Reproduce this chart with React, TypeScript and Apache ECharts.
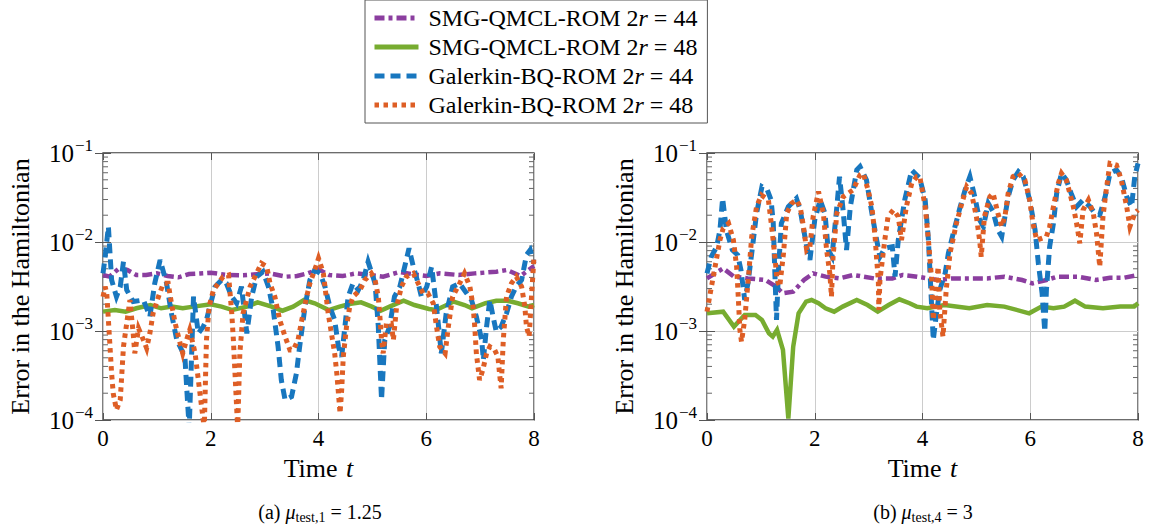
import React, { useEffect, useRef } from "react";
import * as echarts from "echarts";

const FONT = '"Liberation Serif", "Times New Roman", serif';

const SERIES_NAMES = [
  "SMG-QMCL-ROM 2r = 44",
  "SMG-QMCL-ROM 2r = 48",
  "Galerkin-BQ-ROM 2r = 44",
  "Galerkin-BQ-ROM 2r = 48",
];

const X_MIN = 0;
const X_MAX = 8;
const X_INTERVAL = 2;
const Y_MIN = 1e-4;
const Y_MAX = 1e-1;
const MINOR_TICKS = [
  2e-4, 3e-4, 4e-4, 5e-4, 6e-4, 7e-4, 8e-4, 9e-4,
  2e-3, 3e-3, 4e-3, 5e-3, 6e-3, 7e-3, 8e-3, 9e-3,
  2e-2, 3e-2, 4e-2, 5e-2, 6e-2, 7e-2, 8e-2, 9e-2,
];

// ---------- (a) mu_test,1 = 1.25 ----------
const T_A_SMG44 = [0, 0.12, 0.3, 0.45, 0.62, 0.8, 1.0, 1.2, 1.4, 1.6, 1.8, 2.0, 2.3, 2.6, 2.9, 3.1, 3.4, 3.6, 3.8, 4.0, 4.2, 4.45, 4.7, 4.9, 5.2, 5.5, 5.8, 6.0, 6.25, 6.6, 6.9, 7.3, 7.5, 7.75, 8.0];
const V_A_SMG44 = [0.00426, 0.00408, 0.00506, 0.00485, 0.00426, 0.00426, 0.00444, 0.00415, 0.00401, 0.00437, 0.00444, 0.00452, 0.00426, 0.00422, 0.00437, 0.00444, 0.00408, 0.00415, 0.00444, 0.00493, 0.00426, 0.00415, 0.00444, 0.0043, 0.00408, 0.0046, 0.0043, 0.00415, 0.00444, 0.00426, 0.00444, 0.00464, 0.00485, 0.00415, 0.00537];

const T_A_SMG48 = [0, 0.22, 0.42, 0.62, 0.88, 1.08, 1.28, 1.48, 1.68, 2.0, 2.2, 2.4, 2.67, 2.87, 3.13, 3.33, 3.53, 3.73, 3.93, 4.19, 4.39, 4.6, 4.79, 4.99, 5.15, 5.32, 5.58, 5.78, 6.05, 6.18, 6.38, 6.51, 6.71, 6.85, 7.1, 7.3, 7.5, 7.7, 7.9, 8.0];
const V_A_SMG48 = [0.00165, 0.00172, 0.00165, 0.0018, 0.00196, 0.0018, 0.00188, 0.0018, 0.00188, 0.002, 0.00188, 0.00172, 0.00188, 0.0021, 0.00188, 0.00169, 0.00188, 0.00223, 0.00205, 0.00172, 0.00188, 0.00202, 0.0021, 0.00188, 0.00169, 0.00188, 0.00219, 0.00196, 0.00177, 0.00172, 0.00196, 0.00214, 0.00196, 0.0018, 0.00205, 0.00219, 0.00219, 0.00205, 0.00188, 0.00196];

const T_A_GAL44 = [0, 0.04, 0.1, 0.16, 0.25, 0.32, 0.38, 0.44, 0.56, 0.75, 0.87, 0.96, 1.06, 1.18, 1.27, 1.37, 1.46, 1.52, 1.56, 1.6, 1.68, 1.77, 1.86, 1.92, 2.08, 2.2, 2.29, 2.39, 2.48, 2.57, 2.67, 2.76, 2.85, 2.97, 3.07, 3.16, 3.25, 3.31, 3.38, 3.5, 3.59, 3.65, 3.75, 3.84, 3.93, 4.03, 4.12, 4.21, 4.3, 4.37, 4.43, 4.49, 4.55, 4.64, 4.74, 4.83, 4.92, 5.05, 5.11, 5.17, 5.23, 5.32, 5.41, 5.51, 5.6, 5.68, 5.76, 5.85, 5.91, 6.01, 6.1, 6.19, 6.28, 6.37, 6.49, 6.62, 6.75, 6.84, 6.93, 7.03, 7.06, 7.12, 7.18, 7.24, 7.3, 7.39, 7.49, 7.58, 7.67, 7.77, 7.86, 7.93, 8.0];
const V_A_GAL44 = [0.00444, 0.00684, 0.0149, 0.00374, 0.00243, 0.00315, 0.00601, 0.00289, 0.00214, 0.00223, 0.00145, 0.00343, 0.00628, 0.00343, 0.00158, 0.000792, 0.000612, 0.000515, 0.000199, 0.00008, 0.00243, 0.000941, 0.00112, 0.00133, 0.00315, 0.00374, 0.00343, 0.00243, 0.00205, 0.00315, 0.000941, 0.00243, 0.00408, 0.00464, 0.00315, 0.00172, 0.000667, 0.000281, 0.000168, 0.000183, 0.000334, 0.000667, 0.00188, 0.00374, 0.00485, 0.00444, 0.00315, 0.00188, 0.00133, 0.000667, 0.000515, 0.00112, 0.00243, 0.00343, 0.00289, 0.00374, 0.00601, 0.00343, 0.00112, 0.000168, 0.000792, 0.00112, 0.00243, 0.00315, 0.00528, 0.00849, 0.00528, 0.00343, 0.00243, 0.00315, 0.00528, 0.00188, 0.000561, 0.00158, 0.00315, 0.00343, 0.00265, 0.00223, 0.00145, 0.000792, 0.000472, 0.00112, 0.00223, 0.00145, 0.000983, 0.00112, 0.00158, 0.00243, 0.00315, 0.00374, 0.00714, 0.00813, 0.00576];

const T_A_GAL48 = [0, 0.04, 0.07, 0.1, 0.13, 0.16, 0.19, 0.25, 0.32, 0.35, 0.38, 0.44, 0.5, 0.56, 0.59, 0.66, 0.75, 0.81, 0.87, 0.93, 1.03, 1.12, 1.21, 1.27, 1.34, 1.4, 1.48, 1.55, 1.61, 1.71, 1.77, 1.83, 1.88, 1.92, 1.97, 2.05, 2.14, 2.23, 2.33, 2.39, 2.42, 2.45, 2.48, 2.5, 2.54, 2.6, 2.73, 2.85, 2.94, 3.04, 3.1, 3.19, 3.28, 3.38, 3.47, 3.53, 3.62, 3.69, 3.78, 3.84, 3.93, 4.0, 4.09, 4.12, 4.18, 4.24, 4.3, 4.34, 4.37, 4.4, 4.43, 4.46, 4.52, 4.58, 4.64, 4.77, 4.86, 4.98, 5.05, 5.11, 5.14, 5.17, 5.2, 5.26, 5.35, 5.39, 5.45, 5.54, 5.63, 5.76, 5.85, 5.94, 6.03, 6.13, 6.19, 6.25, 6.35, 6.41, 6.49, 6.62, 6.71, 6.81, 6.87, 6.9, 6.93, 6.99, 7.05, 7.12, 7.18, 7.27, 7.33, 7.36, 7.39, 7.43, 7.49, 7.58, 7.67, 7.77, 7.83, 7.86, 7.91, 7.95, 8.0];
const V_A_GAL48 = [0.00243, 0.00315, 0.00265, 0.00133, 0.000667, 0.000334, 0.000199, 0.00013, 0.000168, 0.000334, 0.000667, 0.00122, 0.00223, 0.000941, 0.000561, 0.00107, 0.000792, 0.000639, 0.000941, 0.00158, 0.00243, 0.00343, 0.00343, 0.00205, 0.00122, 0.000864, 0.000561, 0.000792, 0.00103, 0.000561, 0.000281, 0.000141, 0.00008, 0.000792, 0.00188, 0.00289, 0.00343, 0.00408, 0.00426, 0.00158, 0.000792, 0.000334, 0.000141, 0.00008, 0.000561, 0.00158, 0.00315, 0.00444, 0.00576, 0.00528, 0.00343, 0.00243, 0.00133, 0.000864, 0.000612, 0.000612, 0.000792, 0.00133, 0.00243, 0.00343, 0.00485, 0.00655, 0.00444, 0.00315, 0.00158, 0.000941, 0.000561, 0.000334, 0.000199, 0.000119, 0.000217, 0.000515, 0.00112, 0.00188, 0.00243, 0.00289, 0.00374, 0.00444, 0.00374, 0.00243, 0.00145, 0.000792, 0.000561, 0.00122, 0.00122, 0.000792, 0.00188, 0.00315, 0.00408, 0.00444, 0.00343, 0.00265, 0.00265, 0.00205, 0.00112, 0.000667, 0.000561, 0.00112, 0.00243, 0.00343, 0.00444, 0.00315, 0.00188, 0.00112, 0.000561, 0.000281, 0.000365, 0.000561, 0.000667, 0.000612, 0.000515, 0.000334, 0.000227, 0.000792, 0.00243, 0.00343, 0.00408, 0.00315, 0.00188, 0.00112, 0.000864, 0.00223, 0.00684];

// ---------- (b) mu_test,4 = 3 ----------
const T_B_SMG44 = [0, 0.3, 0.5, 0.76, 1.09, 1.28, 1.41, 1.6, 1.8, 1.97, 2.2, 2.46, 2.72, 3.1, 3.44, 3.63, 3.9, 4.28, 4.54, 4.87, 5.2, 5.52, 5.85, 6.04, 6.3, 6.5, 6.89, 7.22, 7.48, 7.74, 8.0];
const V_B_SMG44 = [0.0039, 0.00506, 0.00408, 0.0039, 0.00374, 0.00315, 0.00265, 0.00277, 0.00374, 0.00444, 0.00408, 0.0039, 0.00426, 0.0039, 0.0039, 0.00426, 0.00408, 0.00374, 0.0039, 0.0039, 0.0039, 0.00408, 0.00374, 0.00343, 0.00374, 0.00408, 0.00408, 0.00374, 0.00397, 0.00397, 0.00426];

const T_B_SMG48 = [0, 0.3, 0.5, 0.7, 0.9, 1.02, 1.15, 1.22, 1.3, 1.41, 1.51, 1.6, 1.7, 1.84, 1.94, 2.07, 2.2, 2.36, 2.52, 2.78, 2.98, 3.17, 3.37, 3.57, 3.76, 3.89, 4.09, 4.41, 4.87, 5.2, 5.52, 5.98, 6.21, 6.43, 6.63, 6.83, 7.02, 7.35, 7.67, 7.93, 8.0];
const V_B_SMG48 = [0.00158, 0.00165, 0.00112, 0.00151, 0.00151, 0.00133, 0.000941, 0.000864, 0.00103, 0.000612, 0.000104, 0.000667, 0.00158, 0.00214, 0.00223, 0.00205, 0.0018, 0.00165, 0.00188, 0.00223, 0.00196, 0.00165, 0.00196, 0.00227, 0.00205, 0.00188, 0.0018, 0.00196, 0.0018, 0.00196, 0.00188, 0.00158, 0.00188, 0.0018, 0.00188, 0.00219, 0.00188, 0.0018, 0.00188, 0.00188, 0.00205];

const T_B_GAL44 = [0, 0.08, 0.18, 0.24, 0.29, 0.36, 0.47, 0.57, 0.63, 0.7, 0.76, 0.83, 0.92, 1.02, 1.12, 1.19, 1.23, 1.26, 1.29, 1.33, 1.38, 1.51, 1.66, 1.73, 1.85, 1.91, 2.0, 2.1, 2.19, 2.25, 2.32, 2.41, 2.46, 2.52, 2.59, 2.66, 2.78, 2.84, 2.96, 3.05, 3.15, 3.21, 3.3, 3.44, 3.49, 3.55, 3.67, 3.8, 3.95, 4.05, 4.11, 4.17, 4.2, 4.26, 4.32, 4.42, 4.48, 4.57, 4.7, 4.79, 4.88, 4.97, 5.06, 5.13, 5.22, 5.31, 5.4, 5.47, 5.53, 5.59, 5.68, 5.78, 5.87, 5.99, 6.09, 6.15, 6.22, 6.27, 6.3, 6.36, 6.43, 6.49, 6.58, 6.67, 6.76, 6.86, 6.98, 7.11, 7.2, 7.29, 7.39, 7.48, 7.6, 7.69, 7.79, 7.88, 7.94, 8.0];
const V_B_GAL44 = [0.00444, 0.00684, 0.00886, 0.0136, 0.0309, 0.0136, 0.00813, 0.00714, 0.00485, 0.00223, 0.00343, 0.00746, 0.021, 0.0418, 0.0384, 0.0296, 0.0162, 0.00444, 0.00133, 0.00528, 0.0162, 0.0249, 0.0309, 0.0229, 0.00886, 0.00628, 0.0177, 0.0296, 0.021, 0.00813, 0.00684, 0.0249, 0.0542, 0.0249, 0.00813, 0.0249, 0.0644, 0.0702, 0.0497, 0.0229, 0.0105, 0.00684, 0.00849, 0.00886, 0.00408, 0.0105, 0.0296, 0.0644, 0.0519, 0.0296, 0.0105, 0.00188, 0.000792, 0.00158, 0.00289, 0.00444, 0.00746, 0.0125, 0.0249, 0.0384, 0.0542, 0.0323, 0.0177, 0.0149, 0.0272, 0.0219, 0.0136, 0.0115, 0.0193, 0.0323, 0.0497, 0.0617, 0.0542, 0.0296, 0.0136, 0.00576, 0.00265, 0.000983, 0.00289, 0.00886, 0.0162, 0.0352, 0.0591, 0.0497, 0.0352, 0.0249, 0.0296, 0.0249, 0.021, 0.0201, 0.0323, 0.0591, 0.0644, 0.0542, 0.0323, 0.0249, 0.0542, 0.0765];

const T_B_GAL48 = [0, 0.06, 0.15, 0.24, 0.3, 0.4, 0.49, 0.55, 0.58, 0.61, 0.64, 0.7, 0.77, 0.83, 0.92, 1.01, 1.14, 1.2, 1.26, 1.3, 1.35, 1.42, 1.48, 1.57, 1.66, 1.73, 1.79, 1.85, 1.91, 1.97, 2.07, 2.16, 2.22, 2.28, 2.31, 2.34, 2.41, 2.53, 2.71, 2.84, 2.9, 2.99, 3.06, 3.12, 3.15, 3.18, 3.19, 3.21, 3.3, 3.36, 3.46, 3.55, 3.61, 3.7, 3.8, 3.89, 3.95, 4.05, 4.11, 4.17, 4.2, 4.24, 4.29, 4.32, 4.38, 4.44, 4.51, 4.63, 4.73, 4.82, 4.91, 5.0, 5.06, 5.09, 5.15, 5.25, 5.31, 5.4, 5.47, 5.53, 5.59, 5.68, 5.78, 5.9, 5.99, 6.05, 6.12, 6.21, 6.3, 6.36, 6.43, 6.52, 6.58, 6.67, 6.8, 6.86, 6.92, 6.98, 7.08, 7.17, 7.23, 7.29, 7.35, 7.41, 7.48, 7.6, 7.69, 7.79, 7.85, 7.94, 8.0];
const V_B_GAL48 = [0.00165, 0.00265, 0.00528, 0.0105, 0.0142, 0.0162, 0.0105, 0.00528, 0.00243, 0.00103, 0.000759, 0.00133, 0.00408, 0.0115, 0.0249, 0.0337, 0.0296, 0.0149, 0.00684, 0.00374, 0.00315, 0.00746, 0.021, 0.0272, 0.0296, 0.0249, 0.0149, 0.00813, 0.00886, 0.0193, 0.0368, 0.021, 0.00813, 0.00444, 0.00243, 0.00684, 0.021, 0.0323, 0.0384, 0.0566, 0.0591, 0.0384, 0.0249, 0.0115, 0.00628, 0.00374, 0.00172, 0.00374, 0.0105, 0.0193, 0.0229, 0.0193, 0.0105, 0.0249, 0.0456, 0.0542, 0.0542, 0.0249, 0.0105, 0.00374, 0.00133, 0.00243, 0.00528, 0.00172, 0.000864, 0.00289, 0.00746, 0.0162, 0.0272, 0.0418, 0.0352, 0.0193, 0.0105, 0.00684, 0.0193, 0.0323, 0.0352, 0.021, 0.0149, 0.0193, 0.0352, 0.0542, 0.0591, 0.0497, 0.0296, 0.0162, 0.0105, 0.011, 0.0115, 0.0149, 0.0249, 0.0456, 0.0591, 0.0497, 0.0249, 0.0162, 0.00966, 0.0229, 0.0296, 0.021, 0.0125, 0.00528, 0.0193, 0.0384, 0.0765, 0.0733, 0.0497, 0.0249, 0.0149, 0.021, 0.0229];

const PANEL_A = [
  [T_A_SMG44, V_A_SMG44],
  [T_A_SMG48, V_A_SMG48],
  [T_A_GAL44, V_A_GAL44],
  [T_A_GAL48, V_A_GAL48],
];
const PANEL_B = [
  [T_B_SMG44, V_B_SMG44],
  [T_B_SMG48, V_B_SMG48],
  [T_B_GAL44, V_B_GAL44],
  [T_B_GAL48, V_B_GAL48],
];

const LINE_STYLES = [
  { color: "#8B3E9F", width: 4.5, type: [10, 4, 4, 4] },
  { color: "#77AC30", width: 4.5, type: "solid" },
  { color: "#1877BF", width: 5, type: [10, 6] },
  { color: "#DE5E25", width: 5, type: [4.5, 4.5] },
];

function zip(t: number[], v: number[]) {
  const n = Math.min(t.length, v.length);
  const out: number[][] = [];
  for (let i = 0; i < n; i++) out.push([t[i], v[i]]);
  return out;
}

const GRIDS = [
  { left: 103, top: 153, width: 431, height: 267 },
  { left: 707, top: 153, width: 431, height: 267 },
];

function buildOption() {
  const xAxis: any[] = [];
  const yAxis: any[] = [];
  const series: any[] = [];
  const grid: any[] = [];

  GRIDS.forEach((g, gi) => {
    grid.push({
      ...g,
      show: true,
      borderColor: "#3c3c3c",
      borderWidth: 1.3,
      backgroundColor: "transparent",
    });
    xAxis.push({
      gridIndex: gi,
      type: "value",
      min: X_MIN,
      max: X_MAX,
      interval: X_INTERVAL,
      axisLine: { show: false },
      axisTick: { show: true, inside: true, length: 7, lineStyle: { color: "#555", width: 1 } },
      axisLabel: { fontFamily: FONT, fontSize: 23, color: "#000", margin: 7 },
      splitLine: { show: true, lineStyle: { color: "#cccccc", width: 1 } },
      name: "{n|Time }{i|t}",
      nameLocation: "middle",
      nameGap: 35,
      nameTextStyle: {
        rich: {
          n: { fontFamily: FONT, fontSize: 26, color: "#000" },
          i: { fontFamily: FONT, fontSize: 26, fontStyle: "italic", color: "#000", padding: [0, 0, 0, 2] },
        },
      },
    });
    xAxis.push({
      gridIndex: gi,
      type: "value",
      position: "top",
      min: X_MIN,
      max: X_MAX,
      interval: X_INTERVAL,
      axisLine: { show: false },
      axisTick: { show: true, inside: true, length: 7, lineStyle: { color: "#555", width: 1 } },
      axisLabel: { show: false },
      splitLine: { show: false },
    });
    yAxis.push({
      gridIndex: gi,
      type: "log",
      logBase: 10,
      min: Y_MIN,
      max: Y_MAX,
      axisLine: { show: false },
      axisTick: { show: true, inside: true, length: 8, lineStyle: { color: "#555", width: 1 } },
      splitLine: { show: true, lineStyle: { color: "#cccccc", width: 1 } },
      minorTick: { show: false },
      axisLabel: {
        margin: 10,
        formatter: (v: number) => {
          const e = Math.round(Math.log10(v));
          return "{b|10}{s|\u2212" + Math.abs(e) + "}";
        },
        rich: {
          b: { fontFamily: FONT, fontSize: 25, color: "#000" },
          s: { fontFamily: FONT, fontSize: 17, color: "#000", verticalAlign: "top", padding: [0, 0, 15, 1] },
        },
      },
      name: "Error in the Hamiltonian",
      nameLocation: "middle",
      nameGap: 70,
      nameTextStyle: { fontFamily: FONT, fontSize: 26, color: "#000" },
    });
    yAxis.push({
      gridIndex: gi,
      type: "log",
      logBase: 10,
      min: Y_MIN,
      max: Y_MAX,
      position: "right",
      axisLine: { show: false },
      axisTick: { show: true, inside: true, length: 8, lineStyle: { color: "#555", width: 1 } },
      axisLabel: { show: false },
      splitLine: { show: false },
    });

    const panel = gi === 0 ? PANEL_A : PANEL_B;
    series.push({
      type: "custom",
      xAxisIndex: gi * 2,
      yAxisIndex: gi * 2,
      silent: true,
      z: 1,
      data: MINOR_TICKS.map((v) => [X_MIN, v]),
      encode: { x: 0, y: 1 },
      renderItem: (_p: any, api: any) => {
        const v = api.value(1);
        const a = api.coord([X_MIN, v]);
        const b = api.coord([X_MAX, v]);
        const st = { stroke: "#666", lineWidth: 1 };
        return {
          type: "group",
          children: [
            { type: "line", shape: { x1: a[0], y1: a[1], x2: a[0] + 5, y2: a[1] }, style: st },
            { type: "line", shape: { x1: b[0] - 5, y1: b[1], x2: b[0], y2: b[1] }, style: st },
          ],
        };
      },
    });
    panel.forEach(([t, v], si) => {
      const ls = LINE_STYLES[si];
      series.push({
        name: SERIES_NAMES[si],
        type: "line",
        xAxisIndex: gi * 2,
        yAxisIndex: gi * 2,
        data: zip(t as number[], v as number[]),
        showSymbol: false,
        symbol: "none",
        clip: true,
        z: 2 + si,
        itemStyle: { color: ls.color },
        lineStyle: {
          color: ls.color,
          width: ls.width,
          type: ls.type,
          cap: "butt",
          join: "miter",
          miterLimit: 10,
        },
      });
    });
  });

  return {
    animation: false,
    backgroundColor: "#ffffff",
    grid,
    xAxis,
    yAxis,
    series,
    legend: {
      data: SERIES_NAMES.map((name, i) => ({
        name,
        itemStyle: { opacity: 0 },
        lineStyle: {
          color: LINE_STYLES[i].color,
          width: 5,
          type: LINE_STYLES[i].type,
          cap: "butt",
        },
      })),
      selectedMode: false,
      orient: "vertical",
      left: 365,
      top: 0,
      itemWidth: 44,
      itemHeight: 12,
      itemGap: 5,
      padding: [6, 10, 6, 7],
      borderColor: "#555",
      borderWidth: 1,
      backgroundColor: "#fff",
      formatter: (name: string) => {
        const m = name.match(/^(.*) 2r = (\d+)$/);
        if (!m) return name;
        return "{n|" + m[1] + " 2}{i|r}{n| = " + m[2] + "}";
      },
      textStyle: {
        fontFamily: FONT,
        fontSize: 24,
        color: "#000",
        padding: [0, 0, 0, 5],
        rich: {
          n: { fontFamily: FONT, fontSize: 24, color: "#000" },
          i: { fontFamily: FONT, fontSize: 24, fontStyle: "italic", color: "#000" },
        },
      },
    },
    graphic: [
      {
        type: "text",
        x: 320,
        y: 512,
        style: {
          text: "{n|(a) }{i|\u03bc}{s|test,1}{n| = 1.25}",
          align: "center",
          verticalAlign: "middle",
          rich: {
            n: { fontFamily: FONT, fontSize: 20, color: "#000", lineHeight: 24 },
            i: { fontFamily: FONT, fontSize: 20, fontStyle: "italic", color: "#000", lineHeight: 24 },
            s: { fontFamily: FONT, fontSize: 14, color: "#000", verticalAlign: "bottom", lineHeight: 24, padding: [6, 0, 0, 0] },
          },
        },
      },
      {
        type: "text",
        x: 923,
        y: 512,
        style: {
          text: "{n|(b) }{i|\u03bc}{s|test,4}{n| = 3}",
          align: "center",
          verticalAlign: "middle",
          rich: {
            n: { fontFamily: FONT, fontSize: 20, color: "#000", lineHeight: 24 },
            i: { fontFamily: FONT, fontSize: 20, fontStyle: "italic", color: "#000", lineHeight: 24 },
            s: { fontFamily: FONT, fontSize: 14, color: "#000", verticalAlign: "bottom", lineHeight: 24, padding: [6, 0, 0, 0] },
          },
        },
      },
    ],
  };
}

export default function App() {
  const ref = useRef<HTMLDivElement>(null);
  useEffect(() => {
    if (!ref.current) return;
    const chart = echarts.init(ref.current, null, { renderer: "svg" });
    chart.setOption(buildOption() as any);
    return () => chart.dispose();
  }, []);
  return (
    <div
      ref={ref}
      style={{ position: "fixed", left: 0, top: 0, width: 1151, height: 531, background: "#fff" }}
    />
  );
}
